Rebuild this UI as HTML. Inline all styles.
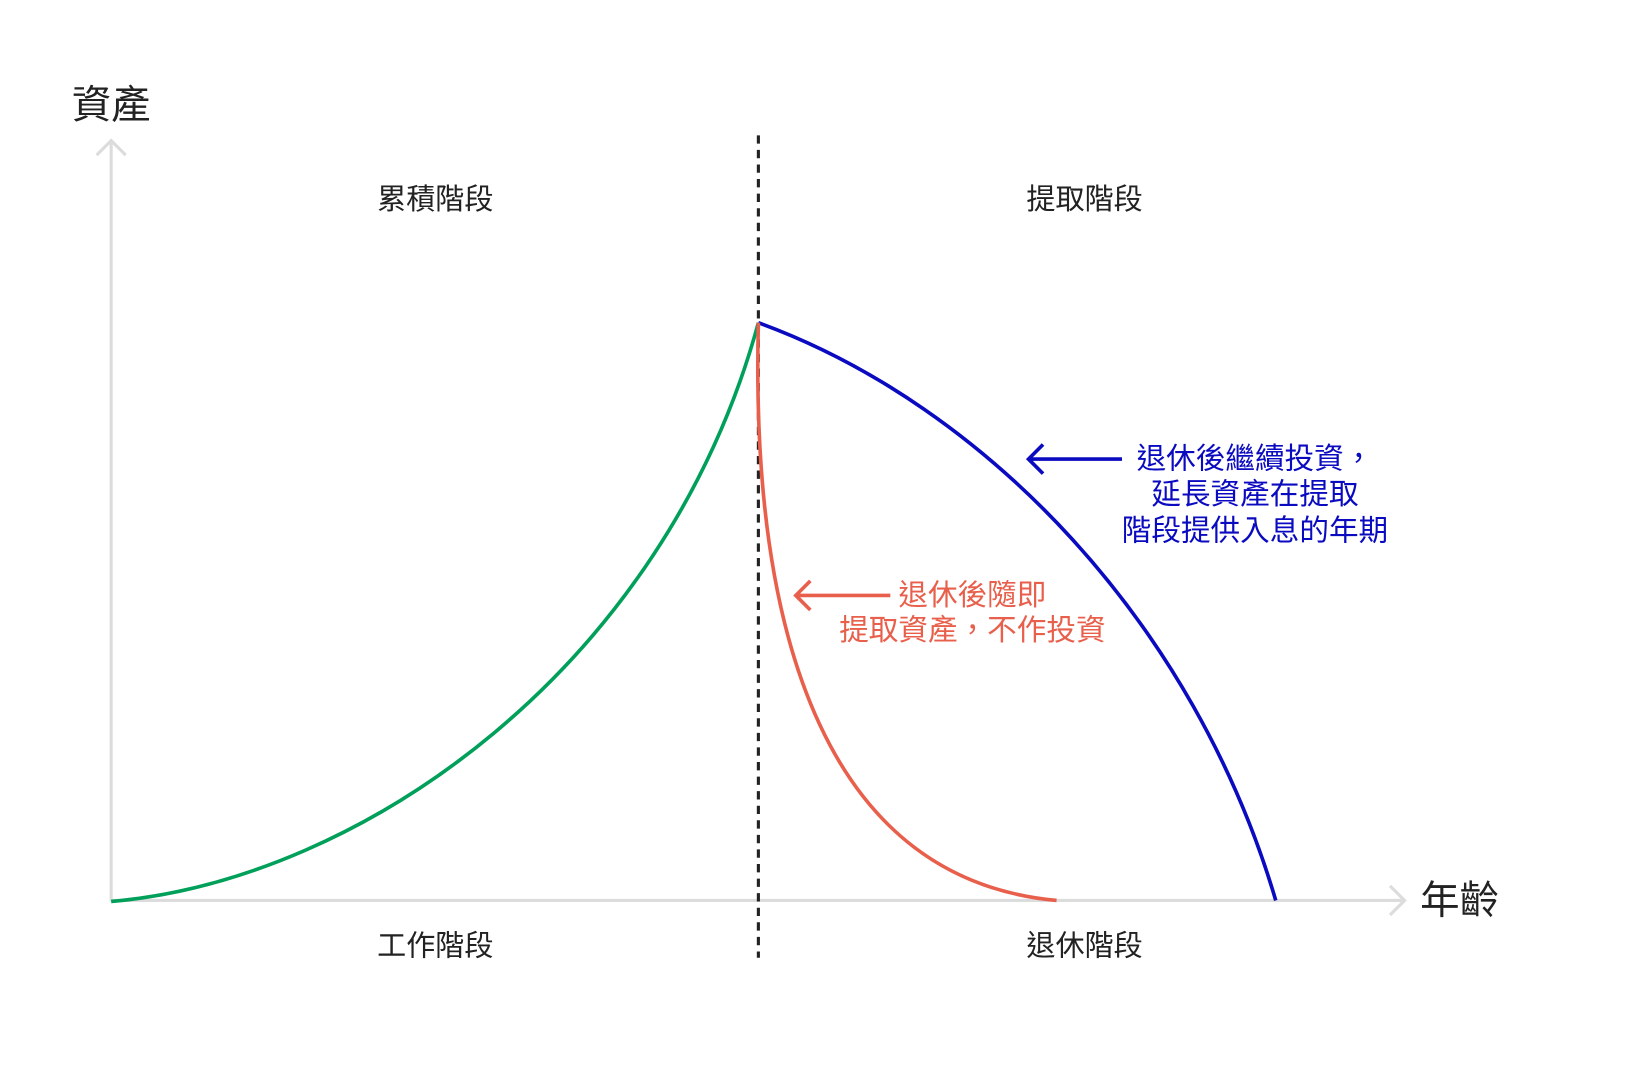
<!DOCTYPE html>
<html><head><meta charset="utf-8"><style>html,body{margin:0;padding:0;background:#fff}svg{display:block}
text{font-family:"Liberation Sans","Noto Sans CJK TC",sans-serif}</style></head><body>
<svg width="1630" height="1067" viewBox="0 0 1569 1025" preserveAspectRatio="none" xmlns="http://www.w3.org/2000/svg">
<g stroke="#dcdcdc" stroke-width="3" fill="none">
<line x1="107" y1="866" x2="107" y2="135"/>
<polyline points="93,149 107,135 121,149"/>
<line x1="107" y1="865" x2="1352" y2="865"/>
<polyline points="1338,851 1352,865 1338,879"/>
</g>
<line x1="730" y1="130" x2="730" y2="920" stroke="#222" stroke-width="3" stroke-dasharray="8,6"/>
<path d="M107,866 C350,845 640,640 730,310" stroke="#00a05a" stroke-width="3.5" fill="none"/>
<path d="M730,310 C950,390 1150,600 1228,865" stroke="#0a0ac0" stroke-width="3.5" fill="none"/>
<path d="M730,310 C722,620 800,845 1017,865" stroke="#e8604c" stroke-width="3.5" fill="none"/>
<g stroke="#0a0ac0" stroke-width="3.5" fill="none"><line x1="990" y1="441" x2="1080" y2="441"/><polyline points="1004,427 990,441 1004,455"/></g>
<g stroke="#e8604c" stroke-width="3.5" fill="none"><line x1="766" y1="572" x2="857" y2="572"/><polyline points="780,558 766,572 780,586"/></g>
<g fill="#222" text-anchor="middle">
<text x="107" y="114" font-size="38">資產</text>
<text x="419" y="201" font-size="28">累積階段</text>
<text x="1044" y="201" font-size="28">提取階段</text>
<text x="419" y="918" font-size="28">工作階段</text>
<text x="1044" y="918" font-size="28">退休階段</text>
<text x="1405" y="878" font-size="38">年齡</text>
</g>
<g fill="#0a0ac0" font-size="28.5" text-anchor="middle">
<text x="1208" y="450">退休後繼續投資，</text>
<text x="1208" y="484">延長資產在提取</text>
<text x="1208" y="519">階段提供入息的年期</text>
</g>
<g fill="#e8604c" font-size="28.5" text-anchor="middle">
<text x="936" y="581">退休後隨即</text>
<text x="936" y="615">提取資產，不作投資</text>
</g>
</svg>
</body></html>
